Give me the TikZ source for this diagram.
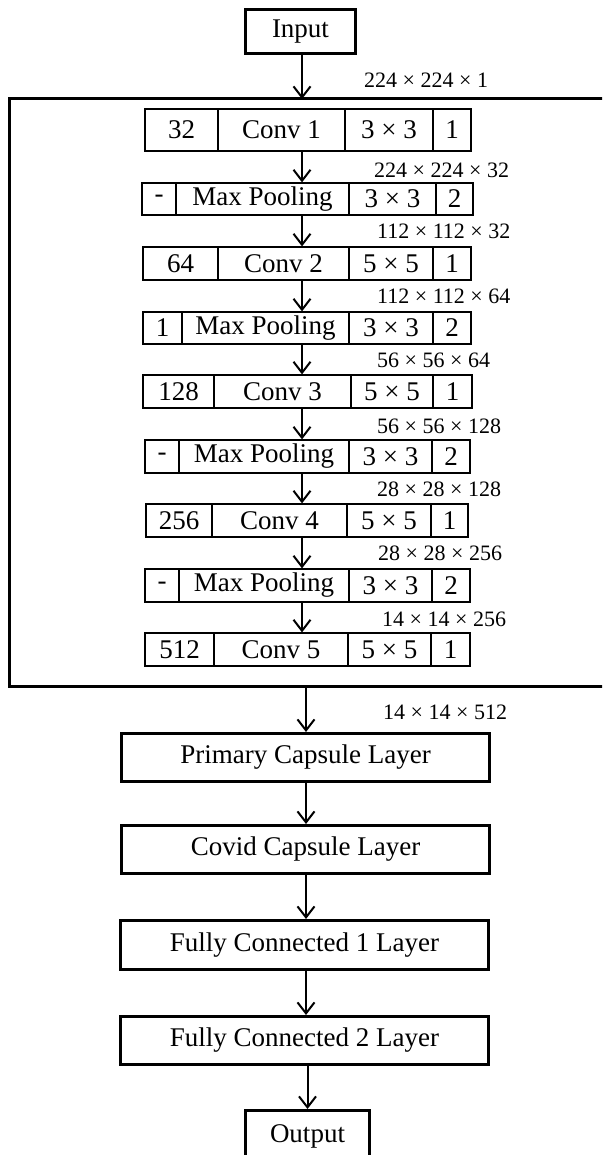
\documentclass[tikz,border=0pt]{standalone}
\usepackage{fontspec}
\setmainfont{Liberation Serif}
\usetikzlibrary{arrows.meta}
\newcommand\mycell[7][cell]{\node[#1, minimum width={(#4-#3)*1pt}, minimum height={(#6-#5)*1pt}] (#2) at ({(#3+#4)/2},{(#5+#6)/2}) {#7};}
\newcommand\bigfont{\fontsize{27}{30}\selectfont}
\newcommand\labfont{\fontsize{22}{26}\selectfont}
\begin{document}
\begin{tikzpicture}[x=1pt,y=-1pt,
  cell/.style={draw, line width=1.2pt, inner sep=0pt, font=\bigfont},
  bigbox/.style={draw, line width=3pt, inner sep=0pt, font=\bigfont},
  dimlab/.style={anchor=west, inner sep=0pt, font=\labfont},
  arr/.style={line width=2pt, -{Straight Barb[length=11pt,width=17pt,line width=2pt]}}]
\useasboundingbox (0,0) rectangle (602,1155);
\begin{scope}
\clip (0,0) rectangle (602,1155);
% container
\draw[line width=3pt] (606,99) -| (9.5,686) -- (606,686);
\coordinate (ctop) at (302,99);
\coordinate (cbot) at (306,686);
\coordinate (ax) at (302,0);
% input
\mycell[bigbox]{input}{245.5}{355.5}{9.5}{53.5}{Input}
% rows
\mycell{c1a}{145}{218}{109}{151}{32}
\mycell{c1b}{218}{345}{109}{151}{Conv 1}
\mycell{c1c}{345}{433}{109}{151}{3 × 3}
\mycell{c1d}{433}{471}{109}{151}{1}
\mycell{m1a}{142}{176}{183}{215}{-}
\mycell{m1b}{176}{349}{183}{215}{Max Pooling}
\mycell{m1c}{349}{436}{183}{215}{3 × 3}
\mycell{m1d}{436}{473}{183}{215}{2}
\mycell{c2a}{143}{218}{247}{280}{64}
\mycell{c2b}{218}{349}{247}{280}{Conv 2}
\mycell{c2c}{349}{433}{247}{280}{5 × 5}
\mycell{c2d}{433}{471}{247}{280}{1}
\mycell{m2a}{143}{182}{312}{344}{1}
\mycell{m2b}{182}{349}{312}{344}{Max Pooling}
\mycell{m2c}{349}{433}{312}{344}{3 × 3}
\mycell{m2d}{433}{471}{312}{344}{2}
\mycell{c3a}{143}{214}{375}{408}{128}
\mycell{c3b}{214}{351}{375}{408}{Conv 3}
\mycell{c3c}{351}{433}{375}{408}{5 × 5}
\mycell{c3d}{433}{472}{375}{408}{1}
\mycell{m3a}{145}{179}{440}{473}{-}
\mycell{m3b}{179}{349}{440}{473}{Max Pooling}
\mycell{m3c}{349}{432}{440}{473}{3 × 3}
\mycell{m3d}{432}{470}{440}{473}{2}
\mycell{c4a}{146}{212}{504}{537}{256}
\mycell{c4b}{212}{347}{504}{537}{Conv 4}
\mycell{c4c}{347}{431}{504}{537}{5 × 5}
\mycell{c4d}{431}{468}{504}{537}{1}
\mycell{m4a}{145}{179}{569}{602}{-}
\mycell{m4b}{179}{349}{569}{602}{Max Pooling}
\mycell{m4c}{349}{432}{569}{602}{3 × 3}
\mycell{m4d}{432}{470}{569}{602}{2}
\mycell{c5a}{145}{214}{633}{666}{512}
\mycell{c5b}{214}{348}{633}{666}{Conv 5}
\mycell{c5c}{348}{431}{633}{666}{5 × 5}
\mycell{c5d}{431}{470}{633}{666}{1}
% lower boxes
\mycell[bigbox]{prim}{121.5}{489.5}{733.5}{781.5}{Primary Capsule Layer}
\mycell[bigbox]{covid}{121.5}{489.5}{825.5}{873.5}{Covid Capsule Layer}
\mycell[bigbox]{fc1}{120.5}{488.5}{920.5}{969.5}{Fully Connected 1 Layer}
\mycell[bigbox]{fc2}{120.5}{488.5}{1016.5}{1064.5}{Fully Connected 2 Layer}
\mycell[bigbox]{out}{245.5}{369.5}{1110.5}{1162}{Output}
% arrows
\draw[arr] (input.south -| ax) -- (ctop);
\draw[arr] (c1b.south -| ax) -- (m1b.north -| ax);
\draw[arr] (m1b.south -| ax) -- (c2b.north -| ax);
\draw[arr] (c2b.south -| ax) -- (m2b.north -| ax);
\draw[arr] (m2b.south -| ax) -- (c3b.north -| ax);
\draw[arr] (c3b.south -| ax) -- (m3b.north -| ax);
\draw[arr] (m3b.south -| ax) -- (c4b.north -| ax);
\draw[arr] (c4b.south -| ax) -- (m4b.north -| ax);
\draw[arr] (m4b.south -| ax) -- (c5b.north -| ax);
\draw[arr] (cbot) -- (cbot |- prim.north);
\draw[arr] (prim.south -| cbot) -- (covid.north -| cbot);
\draw[arr] (covid.south -| cbot) -- (fc1.north -| cbot);
\draw[arr] (fc1.south -| cbot) -- (fc2.north -| cbot);
\draw[arr] (fc2.south -| out) -- (out.north);
% dimension labels
\node[dimlab] (l0) at (364,80) {224 × 224 × 1};
\node[dimlab] (l1) at (374,170) {224 × 224 × 32};
\node[dimlab] (l2) at (377,231) {112 × 112 × 32};
\node[dimlab] (l3) at (377,296) {112 × 112 × 64};
\node[dimlab] (l4) at (377,360) {56 × 56 × 64};
\node[dimlab] (l5) at (377,426) {56 × 56 × 128};
\node[dimlab] (l6) at (377,489) {28 × 28 × 128};
\node[dimlab] (l7) at (378,553) {28 × 28 × 256};
\node[dimlab] (l8) at (382,619) {14 × 14 × 256};
\node[dimlab] (l9) at (383,712) {14 × 14 × 512};
\end{scope}
\end{tikzpicture}
\end{document}
